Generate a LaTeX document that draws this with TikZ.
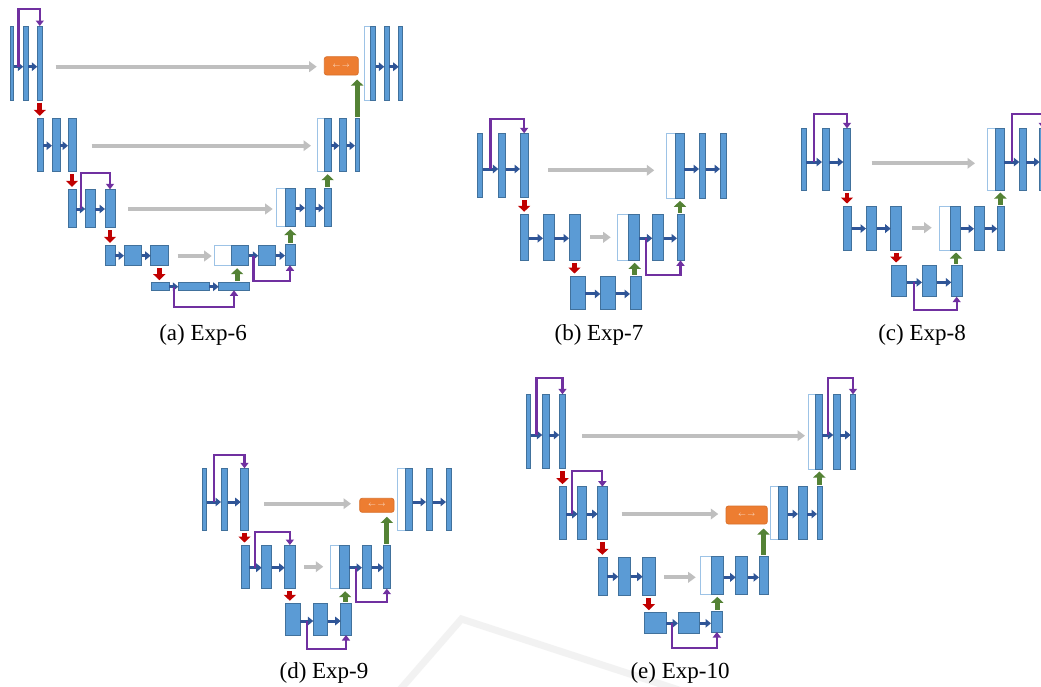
\documentclass[tikz,border=0pt]{standalone}
\usepackage{fontspec}
\setmainfont{Liberation Serif}
\usetikzlibrary{arrows.meta,calc}

\definecolor{bfill}{HTML}{5B9BD5}
\definecolor{bdraw}{HTML}{41719C}
\definecolor{cdraw}{HTML}{9DC3E6}
\definecolor{fblue}{HTML}{2F5597}
\definecolor{sgray}{HTML}{BFBFBF}
\definecolor{dred}{HTML}{C00000}
\definecolor{ugreen}{HTML}{548235}
\definecolor{rpurp}{HTML}{7030A0}
\definecolor{ofill}{HTML}{ED7D31}
\definecolor{odraw}{HTML}{D9702B}

\tikzset{
  blk/.style={rectangle,draw=bdraw,fill=bfill,line width=0.8pt,inner sep=0pt,outer sep=0pt},
  catw/.style={rectangle,draw=cdraw,fill=white,line width=0.8pt,inner sep=0pt,outer sep=0pt},
  orng/.style={rectangle,draw=odraw,fill=ofill,rounded corners=2.5pt,line width=0.8pt,inner sep=0pt,outer sep=0pt,
               text=white!85!ofill,font=\fontsize{7}{7}\selectfont},
  fwdar/.style={draw=fblue,line width=3pt,-{Triangle[length=5.5pt,width=8.5pt]}},
  skipar/.style={draw=sgray,line width=4.2pt,-{Triangle[length=7.5pt,width=10.5pt]}},
  downar/.style={draw=dred,line width=4.8pt,-{Triangle[length=6pt,width=12pt]}},
  upar/.style={draw=ugreen,line width=4.8pt,-{Triangle[length=6pt,width=12pt]}},
  resar/.style={draw=rpurp,line width=2.2pt,-{Triangle[length=5.5pt,width=8pt]}},
  captext/.style={font=\fontsize{23}{27}\selectfont,inner sep=0pt,anchor=base},
  wmark/.style={draw=black!5,line width=7pt,line join=miter}
}

% feature block: name, x1, x2, y1, y2
\newcommand\ublk[5]{\node[blk,minimum width={(#3-#2)*1pt},minimum height={(#5-#4)*1pt}] (#1) at ({(#2+#3)/2},{(#4+#5)/2}) {};}
% concatenated block: name, x1, xm, x2, y1, y2 (white copied half + blue half)
\newcommand\ucat[6]{%
  \node[catw,minimum width={(#3-#2)*1pt},minimum height={(#6-#5)*1pt}] (#1w) at ({(#2+#3)/2},{(#5+#6)/2}) {};
  \node[blk,minimum width={(#4-#3)*1pt},minimum height={(#6-#5)*1pt}] (#1) at ({(#3+#4)/2},{(#5+#6)/2}) {};}
% attention box: name, x1, x2, y1, y2
\newcommand\uorg[5]{\node[orng,minimum width={(#3-#2)*1pt},minimum height={(#5-#4)*1pt}] (#1) at ({(#2+#3)/2},{(#4+#5)/2}) {$\leftarrow\,\rightarrow$};}
% convolution arrow: from, to, vertical offset; records its midpoint as m<from>
\newcommand\fwdar[3]{%
  \path ($(#1.east)+(0,#3)$) coordinate (fs) (fs -| #2.west) coordinate (fe) ($(fs)!.5!(fe)$) coordinate (m#1);
  \draw[fwdar] (fs) -- (fe);}
% skip connection: from, to, start gap, end gap, vertical offset
\newcommand\gsk[5]{%
  \path ($(#1.east)+(#3,#5)$) coordinate (gs);
  \draw[skipar] (gs) -- ($(gs -| #2.west)+(-#4,0)$);}
% pooling (down) arrow
\newcommand\dnar[2]{\draw[downar] ($(#1.south)+(0,2.5)$) -- ($(#1.south |- #2.north)+(0,-2.5)$);}
% upsampling arrow into a concatenation (centred between both blocks)
\newcommand\uparm[2]{%
  \path ($(#1.north)!.5!(#2.south)$) coordinate (gm);
  \draw[upar] ($(gm |- #1.north)+(0,-1.5)$) -- ($(gm |- #2.south)+(0,2.5)$);}
% upsampling arrow into an attention box
\newcommand\uparf[2]{\draw[upar] ($(#1.north)+(0,-1.5)$) -- ($(#1.north |- #2.south)+(0,4.5)$);}
% residual links over / under a block row
\newcommand\resu[3]{\draw[resar] (#1) |- ($(#2.north)+(0,-#3)$) -- (#2.north);}
\newcommand\resd[3]{\draw[resar] (#1) |- ($(#2.south)+(0,#3)$) -- (#2.south);}

\begin{document}
\begin{tikzpicture}[x=1pt,y=-1pt]
\useasboundingbox (0,0) rectangle (1041,686);
\fill[white] (0,0) rectangle (1041,686);

% faint background mark
\draw[wmark] (398,692) -- (461.5,619) -- (685,692);

%%%%%%%%%%%%%%%% (a) Exp-6
\ublk{A11}{10.3}{13.7}{26}{100}
\ublk{A12}{23.3}{28.3}{26}{100}
\ublk{A13}{37.3}{42.3}{26}{100}
\ublk{A21}{37.3}{43.3}{118.3}{171.7}
\ublk{A22}{52}{60}{118.3}{171.7}
\ublk{A23}{68}{76}{118.3}{171.7}
\ublk{A31}{68.3}{76}{189.3}{227.7}
\ublk{A32}{85.3}{95}{189.3}{227.7}
\ublk{A33}{105}{115}{189.3}{227.7}
\ublk{A41}{105.3}{115}{245.3}{265.7}
\ublk{A42}{124}{141.7}{245.3}{265.7}
\ublk{A43}{150.7}{168}{245.3}{265.7}
\ublk{A51}{151.7}{169}{282.7}{290.3}
\ublk{A52}{178.3}{209}{282.7}{290.3}
\ublk{A53}{218.7}{249.3}{282.7}{290.3}
\ucat{A4c}{214.3}{231.7}{248.7}{245.3}{265.7}
\ublk{A4d}{258.3}{275.7}{245}{265.3}
\ublk{A4e}{285}{295}{244}{265.3}
\ucat{A3c}{276}{285.7}{295.7}{188.3}{226.7}
\ublk{A3d}{305}{315}{188.3}{226.7}
\ublk{A3e}{324}{331.7}{188.3}{226.7}
\ucat{A2c}{317}{324}{331}{118.3}{171.7}
\ublk{A2d}{339.3}{346.7}{118.3}{171.7}
\ublk{A2e}{355}{359.3}{118.3}{171.7}
\uorg{A1o}{324.3}{358.3}{56.7}{75}
\ucat{A1c}{364.3}{370}{375.7}{26}{100.7}
\ublk{A1d}{384.3}{389.3}{26}{100.7}
\ublk{A1e}{398.7}{402.3}{26}{100.7}

\fwdar{A11}{A12}{3.7} \fwdar{A12}{A13}{3.7}
\fwdar{A1c}{A1d}{3.4} \fwdar{A1d}{A1e}{3.4}
\fwdar{A21}{A22}{0.7} \fwdar{A22}{A23}{0.7}
\fwdar{A2c}{A2d}{0.7} \fwdar{A2d}{A2e}{0.7}
\fwdar{A31}{A32}{0.5} \fwdar{A32}{A33}{0.5}
\fwdar{A3c}{A3d}{0.5} \fwdar{A3d}{A3e}{0.5}
\fwdar{A41}{A42}{0.2} \fwdar{A42}{A43}{0.2}
\fwdar{A4c}{A4d}{0.2} \fwdar{A4d}{A4e}{0.5}
\fwdar{A51}{A52}{0.2} \fwdar{A52}{A53}{0.2}

\gsk{A13}{A1o}{13.4}{7.6}{3.7}
\gsk{A23}{A2cw}{15.7}{6}{0.7}
\gsk{A33}{A3cw}{13.3}{3.3}{0.5}
\gsk{A43}{A4cw}{9.7}{2.6}{0.5}

\dnar{A13}{A21} \dnar{A23}{A31} \dnar{A33}{A41} \dnar{A43}{A51}
\uparm{A53}{A4c} \uparm{A4e}{A3c} \uparm{A3e}{A2c} \uparf{A2e}{A1o}

\resu{mA11}{A13}{16.7}
\resu{mA31}{A33}{16.6}
\resd{mA4c}{A4e}{16}
\resd{mA51}{A53}{17}

\node[captext] (capA) at (203,340) {(a) Exp-6};

%%%%%%%%%%%%%%%% (b) Exp-7
\ublk{B11}{477.3}{482.7}{133.3}{197.7}
\ublk{B12}{498.3}{505.7}{133.3}{197.7}
\ublk{B13}{520}{528.3}{133.3}{197.7}
\ublk{B21}{520}{528.7}{214.3}{260.3}
\ublk{B22}{543}{554.3}{214.3}{260.3}
\ublk{B23}{569}{580}{214.3}{260.3}
\ublk{B31}{570}{585.3}{276}{309.3}
\ublk{B32}{600.3}{615.7}{276}{309.3}
\ublk{B33}{630}{641}{276}{309.3}
\ucat{B2c}{617.3}{628.3}{639.3}{214.3}{260.3}
\ublk{B2d}{652.3}{663.7}{214.3}{260.3}
\ublk{B2e}{677}{684}{214.3}{260.3}
\ucat{B1c}{666.7}{675}{684}{133.3}{198.3}
\ublk{B1d}{699}{705.7}{133.3}{198.3}
\ublk{B1e}{720}{726}{133.3}{198.3}

\fwdar{B11}{B12}{3.5} \fwdar{B12}{B13}{3.5}
\fwdar{B1c}{B1d}{3.2} \fwdar{B1d}{B1e}{3.2}
\fwdar{B21}{B22}{1} \fwdar{B22}{B23}{1}
\fwdar{B2c}{B2d}{1} \fwdar{B2d}{B2e}{1}
\fwdar{B31}{B32}{1.3} \fwdar{B32}{B33}{1.3}

\gsk{B13}{B1cw}{20}{12.4}{4.8}
\gsk{B23}{B2cw}{10}{6.6}{0}

\dnar{B13}{B21} \dnar{B23}{B31}
\uparm{B33}{B2c} \uparm{B2e}{B1c}

\resu{mB11}{B13}{14.6}
\resd{mB2c}{B2e}{14.7}

\node[captext] (capB) at (599,340) {(b) Exp-7};

%%%%%%%%%%%%%%%% (c) Exp-8
\ublk{C11}{801.3}{806}{128.3}{190}
\ublk{C12}{822}{829}{128.3}{190}
\ublk{C13}{843.3}{850.7}{128.3}{190}
\ublk{C21}{843.7}{851.7}{206}{250}
\ublk{C22}{866}{876.7}{206}{250}
\ublk{C23}{890.7}{901.7}{206}{250}
\ublk{C31}{891.3}{906.7}{265}{296.7}
\ublk{C32}{922}{936.7}{265}{296.7}
\ublk{C33}{951.3}{962}{265}{296.7}
\ucat{C2c}{939.3}{950}{960.7}{206}{250}
\ublk{C2d}{974}{984.7}{206}{250}
\ublk{C2e}{997.3}{1004.3}{206}{250}
\ucat{C1c}{987.3}{995.7}{1004.3}{128.3}{190}
\ublk{C1d}{1019.3}{1026}{128.3}{190}
\ublk{C1e}{1039.5}{1046}{128.3}{190}

\fwdar{C11}{C12}{2.9} \fwdar{C12}{C13}{2.9}
\fwdar{C1c}{C1d}{2.9} \fwdar{C1d}{C1e}{2.9}
\fwdar{C21}{C22}{0.6} \fwdar{C22}{C23}{0.6}
\fwdar{C2c}{C2d}{0.8} \fwdar{C2d}{C2e}{0.8}
\fwdar{C31}{C32}{1.5} \fwdar{C32}{C33}{1.5}

\gsk{C13}{C1cw}{21}{12.3}{4.15}
\gsk{C23}{C2cw}{10.6}{7.6}{-0.3}

\dnar{C13}{C21} \dnar{C23}{C31}
\uparm{C33}{C2c} \uparm{C2e}{C1c}

\resu{mC11}{C13}{14.3}
\resu{mC1c}{C1e}{14.3}
\resd{mC31}{C33}{13.3}

\node[captext] (capC) at (922,340) {(c) Exp-8};

%%%%%%%%%%%%%%%% (d) Exp-9
\ublk{D11}{202.3}{206.7}{468.3}{530}
\ublk{D12}{221}{227.7}{468.3}{530}
\ublk{D13}{240.7}{248.3}{468.3}{530}
\ublk{D21}{241}{249}{545}{588.7}
\ublk{D22}{261.7}{271.7}{545}{588.7}
\ublk{D23}{284.7}{295}{545}{588.7}
\ublk{D31}{285.7}{300}{603.3}{635}
\ublk{D32}{313.3}{327.7}{603.3}{635}
\ublk{D33}{340.7}{351.3}{603.3}{635}
\ucat{D2c}{330}{339.3}{349.3}{545}{588.7}
\ublk{D2d}{362}{371.7}{545}{588.7}
\ublk{D2e}{383.7}{390}{545}{588.7}
\uorg{D1o}{359.7}{394}{498.3}{512.3}
\ucat{D1c}{397.3}{405}{412.7}{468.3}{530}
\ublk{D1d}{426}{432.7}{468.3}{530}
\ublk{D1e}{446}{451.3}{468.3}{530}

\fwdar{D11}{D12}{2.85} \fwdar{D12}{D13}{2.85}
\fwdar{D1c}{D1d}{2.85} \fwdar{D1d}{D1e}{2.85}
\fwdar{D21}{D22}{0.85} \fwdar{D22}{D23}{0.85}
\fwdar{D2c}{D2d}{0.85} \fwdar{D2d}{D2e}{0.85}
\fwdar{D31}{D32}{1.85} \fwdar{D32}{D33}{1.85}

\gsk{D13}{D1o}{15.7}{8.7}{4.55}
\gsk{D23}{D2cw}{9}{6.7}{-0.15}

\dnar{D13}{D21} \dnar{D23}{D31}
\uparm{D33}{D2c} \uparf{D2e}{D1o}

\resu{mD11}{D13}{13.6}
\resu{mD21}{D23}{13}
\resd{mD2c}{D2e}{13.6}
\resd{mD31}{D33}{14}

\node[captext] (capD) at (324,678) {(d) Exp-9};

%%%%%%%%%%%%%%%% (e) Exp-10
\ublk{E11}{526}{530.7}{394.3}{468.3}
\ublk{E12}{542.3}{549}{394.3}{468.3}
\ublk{E13}{559.3}{565.7}{394.3}{468.3}
\ublk{E21}{559.3}{566}{486.7}{539}
\ublk{E22}{577.7}{586.7}{486.7}{539}
\ublk{E23}{597.7}{607}{486.7}{539}
\ublk{E31}{598}{607}{557.3}{595.7}
\ublk{E32}{618.3}{630.7}{557.3}{595.7}
\ublk{E33}{642.7}{655}{557.3}{595.7}
\ublk{E41}{644.7}{666}{612.7}{633.3}
\ublk{E42}{678}{699.7}{612.7}{633.3}
\ublk{E43}{711}{722.7}{611.3}{632}
\ucat{E3c}{700}{711.7}{723.7}{556}{594.3}
\ublk{E3d}{735.7}{747.7}{556}{594.3}
\ublk{E3e}{759}{768}{556}{594.3}
\uorg{E2o}{726}{767.3}{506}{524}
\ucat{E2c}{770.7}{778.7}{787.7}{486.7}{539}
\ublk{E2d}{798}{807}{486.7}{539}
\ublk{E2e}{817}{822.7}{486.7}{539}
\ucat{E1c}{808.3}{815.3}{822.3}{394.3}{469}
\ublk{E1d}{833.3}{840}{394.3}{469}
\ublk{E1e}{850.7}{855.3}{394.3}{469}

\fwdar{E11}{E12}{3.7} \fwdar{E12}{E13}{3.7}
\fwdar{E1c}{E1d}{3.35} \fwdar{E1d}{E1e}{3.35}
\fwdar{E21}{E22}{1.15} \fwdar{E22}{E23}{1.15}
\fwdar{E2c}{E2d}{1.15} \fwdar{E2d}{E2e}{1.15}
\fwdar{E31}{E32}{0.2} \fwdar{E32}{E33}{0.2}
\fwdar{E3c}{E3d}{2.2} \fwdar{E3d}{E3e}{2.2}
\fwdar{E41}{E42}{0.3} \fwdar{E42}{E43}{0.3}

\gsk{E13}{E1cw}{16.6}{3.3}{4.4}
\gsk{E23}{E2o}{14.7}{7.7}{1.15}
\gsk{E33}{E3cw}{9.3}{4.3}{0.8}

\dnar{E13}{E21} \dnar{E23}{E31} \dnar{E33}{E41}
\uparm{E43}{E3c} \uparf{E3e}{E2o} \uparm{E2e}{E1c}

\resu{mE11}{E13}{16.3}
\resu{mE1c}{E1e}{16.3}
\resu{mE21}{E23}{15.7}
\resd{mE41}{E43}{16.3}

\node[captext] (capE) at (680,678) {(e) Exp-10};
\end{tikzpicture}
\end{document}
